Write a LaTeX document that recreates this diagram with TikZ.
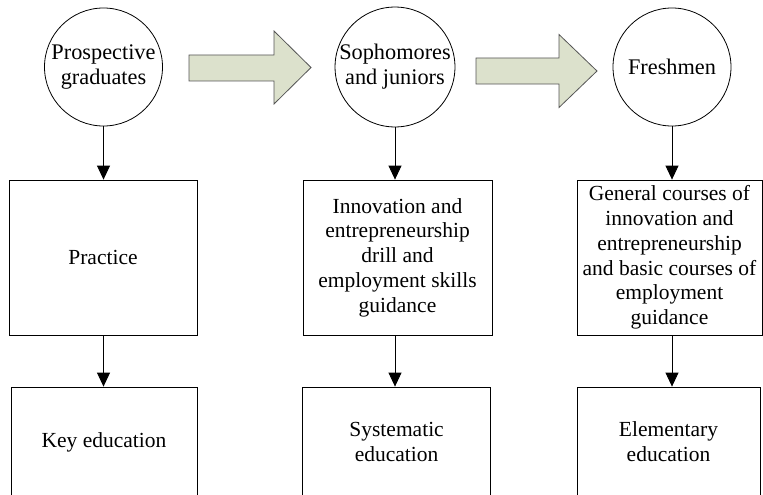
\documentclass[tikz,border=0pt]{standalone}
\usepackage{fontspec}
\setmainfont{Liberation Serif}
\usetikzlibrary{arrows.meta,positioning}
\definecolor{arrowfill}{RGB}{220,225,204}
\definecolor{arrowline}{RGB}{85,85,85}
\begin{document}
\begin{tikzpicture}[x=1pt,y=-1pt,
  font=\fontsize{21.5}{24.8}\selectfont,
  stage/.style={draw,circle,minimum size=118pt,inner sep=0pt,align=center,line width=0.8pt,
    font=\fontsize{22.3}{25}\selectfont},
  box/.style={draw,minimum height=155pt,inner sep=2pt,align=center,line width=0.8pt},
  level/.style={draw,minimum height=110pt,inner sep=2pt,align=center,line width=0.8pt},
  flow/.style={line width=0.8pt,-{Triangle[length=14pt,width=13pt]}},
  bigarrow/.style={fill=arrowfill,draw=arrowline,line width=0.8pt,line join=miter}]
\useasboundingbox (0,0) rectangle (763,495);
% Draw the three student groups as circles
\node[stage] (pg) at (103.5,67) {Prospective\\graduates};
\node[stage] (sj) at (395,67) {Sophomores\\and juniors};
\node[stage] (fr) at (672,67) {Freshmen};
% Draw the big arrows between the circles
\draw[bigarrow] (189,55) -- (274,55) -- (274,31) -- (311,67.5) -- (274,104) -- (274,81) -- (189,81) -- cycle;
\draw[bigarrow] (476,58) -- (559,58) -- (559,34.5) -- (597,71) -- (559,107.5) -- (559,84) -- (476,84) -- cycle;
% Draw the content boxes
\node[box,minimum width=188pt] (pr) at (103,257.5) {Practice};
\node[box,minimum width=189pt] (dr) at (397.5,257.5) {Innovation and\\entrepreneurship\\drill and\\employment skills\\guidance};
\node[box,minimum width=185pt] (gc) at (669.5,257.5) {General courses of\\innovation and\\entrepreneurship\\and basic courses of\\employment\\guidance};
% Draw the education level boxes (cut off at the bottom)
\node[level,minimum width=186pt] (ke) at (104,442) {Key education};
\node[level,minimum width=188pt] (se) at (396.6,442) {Systematic\\education};
\node[level,minimum width=183pt] (ee) at (668.5,442) {Elementary\\education};
% Connect circles to content boxes
\draw[flow] (pg.south) -- (pg.south |- pr.north);
\draw[flow] (sj.south) -- (sj.south |- dr.north);
\draw[flow] (fr.south) -- (fr.south |- gc.north);
% Connect content boxes to education level boxes
\draw[flow] (pg |- pr.south) -- (pg |- ke.north);
\draw[flow] (sj |- dr.south) -- (sj |- se.north);
\draw[flow] (fr |- gc.south) -- (fr |- ee.north);
\end{tikzpicture}
\end{document}
